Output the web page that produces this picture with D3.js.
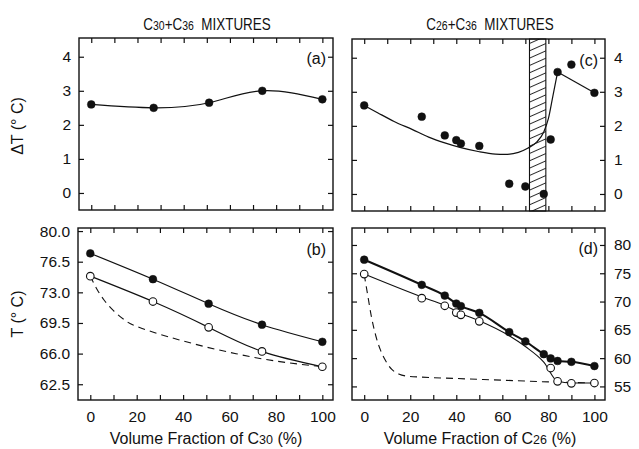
<!DOCTYPE html>
<html>
<head>
<meta charset="utf-8">
<script src="https://cdn.jsdelivr.net/npm/d3@7"></script>
<style>
body { margin: 0; background: #fff; }
text { font-family: "Liberation Sans", Arial, sans-serif; fill: #111; }
</style>
</head>
<body>
<div id="chart"></div>
<script>
var width = 639, height = 449;

// x ticks shared by all panels
var xTicks = [0, 10, 20, 30, 40, 50, 60, 70, 80, 90, 100];

// (a) C30+C36, undercooling
var aX = [0, 27, 51, 74, 100];
var aDT = [2.6, 2.5, 2.65, 3.0, 2.75];
var aTicks = [0, 1, 2, 3, 4];

// (b) C30+C36, transition temperatures
var bX = [0, 27, 51, 74, 100];
var bFilled = [77.45, 74.5, 71.7, 69.3, 67.35];
var bOpen = [74.85, 71.95, 69.0, 66.25, 64.5];
var bDashX = [0, 3, 6, 10, 15, 20, 30, 40, 50, 60, 70, 80, 90, 100];
var bDashY = [74.85, 73.3, 72.1, 70.9, 69.8, 69.1, 68.2, 67.45, 66.75, 66.15, 65.6, 65.15, 64.8, 64.5];
var bTicks = [62.5, 66.0, 69.5, 73.0, 76.5, 80.0];

// (c) C26+C36, undercooling
var cX = [0, 25, 35, 40, 42, 50, 63, 70, 78, 81, 84, 90, 100];
var cDT = [2.6, 2.27, 1.72, 1.58, 1.48, 1.41, 0.3, 0.22, 0.0, 1.6, 3.58, 3.8, 2.97];
var cFitX = [0, 6, 13, 21, 28, 35, 42, 50, 57, 61, 67, 71, 75, 78, 80, 82, 84];
var cFitY = [2.6, 2.38, 2.13, 1.89, 1.67, 1.5, 1.36, 1.24, 1.17, 1.16, 1.22, 1.34, 1.53, 1.82, 2.21, 2.89, 3.58];
var cTailX = [84, 100];
var cTailY = [3.58, 2.97];
var cBand = [71.8, 78.9];

// (d) C26+C36, transition temperatures
var dX = [0, 25, 35, 40, 42, 50, 63, 70, 78, 81, 84, 90, 100];
var dFilled = [77.4, 72.95, 71.05, 69.65, 69.2, 68.0, 64.6, 62.95, 60.7, 59.95, 59.5, 59.35, 58.6];
var dOpenX = [0, 25, 35, 40, 42, 50, 81, 84, 90, 100];
var dOpen = [74.85, 70.6, 69.25, 68.05, 67.65, 66.5, 58.25, 55.9, 55.55, 55.6];
var dOpenLineX = [0, 25, 35, 42, 50, 63, 70, 78, 84, 90, 100];
var dOpenLineY = [74.85, 70.8, 69.3, 67.9, 66.6, 63.95, 62.05, 59.3, 55.9, 55.6, 55.6];
var dDashX = [0, 1.5, 3, 5, 7, 9.5, 12, 15, 18, 25, 40, 60, 80, 100];
var dDashY = [74.8, 71.2, 67.6, 64.0, 61.5, 59.4, 58.0, 57.2, 56.85, 56.65, 56.4, 56.1, 55.8, 55.6];
var dTicks = [55, 60, 65, 70, 75, 80];

var svg = d3.select("#chart").append("svg")
	.attr("width", width)
	.attr("height", height);

svg.append("defs").append("pattern")
	.attr("id", "hatch")
	.attr("patternUnits", "userSpaceOnUse")
	.attr("width", 10)
	.attr("height", 6.7)
	.attr("patternTransform", "rotate(-24)")
	.append("line")
	.attr("x1", 0).attr("x2", 10)
	.attr("y1", 0.5).attr("y2", 0.5)
	.attr("stroke", "#111")
	.attr("stroke-width", 0.9);

function makePanel(box, yDomain) {
	var p = {};
	p.x = d3.scaleLinear().domain([-5.3, 104.6]).range([box.x0, box.x1]);
	p.y = d3.scaleLinear().domain(yDomain).range([box.y1, box.y0]);
	p.g = svg.append("g");
	p.box = box;
	return p;
}

function frame(p, yTicks, yLabelSide, yFormat, xLabels) {
	var b = p.box;
	var t = 5;
	var left = d3.axisLeft(p.y).tickValues(yTicks).tickSize(-t).tickPadding(8)
		.tickFormat(yLabelSide == "left" ? yFormat : "");
	var right = d3.axisRight(p.y).tickValues(yTicks).tickSize(-t).tickPadding(9)
		.tickFormat(yLabelSide == "right" ? yFormat : "");
	var bottom = d3.axisBottom(p.x).tickValues(xTicks).tickSize(-t).tickPadding(11)
		.tickFormat(function (d) { return xLabels && d % 20 == 0 ? d : ""; });
	var top = d3.axisTop(p.x).tickValues(xTicks).tickSize(-t).tickFormat("");

	[[left, "translate(" + b.x0 + ",0)"], [right, "translate(" + b.x1 + ",0)"],
	 [bottom, "translate(0," + b.y1 + ")"], [top, "translate(0," + b.y0 + ")"]].forEach(function (a) {
		var ax = p.g.append("g").attr("transform", a[1]).call(a[0]);
		ax.select(".domain").remove();
		ax.selectAll("line").attr("stroke", "#111").attr("stroke-width", 1.2);
		ax.selectAll("text").style("font-size", "15.5px").attr("fill", "#111");
	});

	p.g.append("rect")
		.attr("x", b.x0).attr("y", b.y0)
		.attr("width", b.x1 - b.x0).attr("height", b.y1 - b.y0)
		.attr("fill", "none").attr("stroke", "#111").attr("stroke-width", 1.4);
}

function curve(p, xs, ys, c, w, dash) {
	var line = d3.line()
		.x(function (d) { return p.x(d[0]); })
		.y(function (d) { return p.y(d[1]); })
		.curve(c);
	p.g.append("path")
		.datum(d3.zip(xs, ys))
		.attr("d", line)
		.attr("fill", "none")
		.attr("stroke", "#111")
		.attr("stroke-width", w)
		.attr("stroke-dasharray", dash || null);
}

function dots(p, xs, ys, open) {
	p.g.selectAll(null)
		.data(d3.zip(xs, ys))
		.enter()
		.append("circle")
		.attr("cx", function (d) { return p.x(d[0]); })
		.attr("cy", function (d) { return p.y(d[1]); })
		.attr("r", open ? 3.8 : 3.9)
		.attr("fill", open ? "#fff" : "#111")
		.attr("stroke", "#111")
		.attr("stroke-width", open ? 1.1 : 0.5);
}

function tag(p, s, yy) {
	p.g.append("text")
		.attr("x", p.box.x1 - 7)
		.attr("y", yy)
		.attr("text-anchor", "end")
		.style("font-size", "16px")
		.text(s);
}

// panel boxes
var pa = makePanel({ x0: 79, x1: 333, y0: 38, y1: 210 }, [-0.5, 4.55]);
var pc = makePanel({ x0: 352, x1: 605, y0: 39, y1: 211 }, [-0.5, 4.55]);
var pb = makePanel({ x0: 78, x1: 333, y0: 228, y1: 400 }, [60.7, 80.35]);
var pd = makePanel({ x0: 352, x1: 605, y0: 228, y1: 400 }, [52.6, 83]);

// (a)
frame(pa, aTicks, "left", d3.format("d"), false);
curve(pa, aX, aDT, d3.curveNatural, 1.2);
dots(pa, aX, aDT, false);
tag(pa, "(a)", 64);

// (c)
pc.g.append("rect")
	.attr("x", pc.x(cBand[0])).attr("y", pc.box.y0)
	.attr("width", pc.x(cBand[1]) - pc.x(cBand[0]))
	.attr("height", pc.box.y1 - pc.box.y0)
	.attr("fill", "url(#hatch)")
	.attr("stroke", "#111").attr("stroke-width", 1.1);
frame(pc, aTicks, "right", d3.format("d"), false);
curve(pc, cFitX, cFitY, d3.curveMonotoneX, 1.2);
curve(pc, cTailX, cTailY, d3.curveLinear, 1.2);
dots(pc, cX, cDT, false);
tag(pc, "(c)", 66);

// (b)
frame(pb, bTicks, "left", d3.format(".1f"), true);
curve(pb, bDashX, bDashY, d3.curveNatural, 1.1, "7,5");
curve(pb, bX, bFilled, d3.curveNatural, 1.2);
curve(pb, bX, bOpen, d3.curveNatural, 1.2);
dots(pb, bX, bFilled, false);
dots(pb, bX, bOpen, true);
tag(pb, "(b)", 255);

// (d)
frame(pd, dTicks, "right", d3.format("d"), true);
curve(pd, dDashX, dDashY, d3.curveMonotoneX, 1.1, "7,5");
curve(pd, dOpenLineX, dOpenLineY, d3.curveMonotoneX, 1.1);
curve(pd, dX, dFilled, d3.curveMonotoneX, 2);
dots(pd, dX, dFilled, false);
dots(pd, dOpenX, dOpen, true);
tag(pd, "(d)", 254);

// titles and axis labels
function chem(x, y, parts, size, sx, rot) {
	var t = svg.append("text")
		.attr("text-anchor", "middle")
		.attr("transform", "translate(" + x + "," + y + ")" + (rot ? " rotate(" + rot + ")" : "") +
			" scale(" + sx + ",1)")
		.style("font-size", size + "px");
	parts.forEach(function (s) {
		var sub = s.charAt(0) == "_";
		t.append("tspan")
			.style("font-size", (sub ? size * 0.78 : size) + "px")
			.text(sub ? s.slice(1) : s);
	});
	return t;
}

chem(207, 30, ["C", "_30", "+C", "_36", "\u00a0\u00a0MIXTURES"], 16, 0.84);
chem(490, 30, ["C", "_26", "+C", "_36", "\u00a0\u00a0MIXTURES"], 16, 0.84);
chem(206, 444, ["Volume Fraction of C", "_30", " (%)"], 16, 1);
chem(480, 444, ["Volume Fraction of C", "_26", " (%)"], 16, 1);
chem(23, 126, ["\u0394T (\u00b0 C)"], 16, 1, -90);
chem(23, 314, ["T (\u00b0 C)"], 16, 1, -90);
</script>
</body>
</html>
